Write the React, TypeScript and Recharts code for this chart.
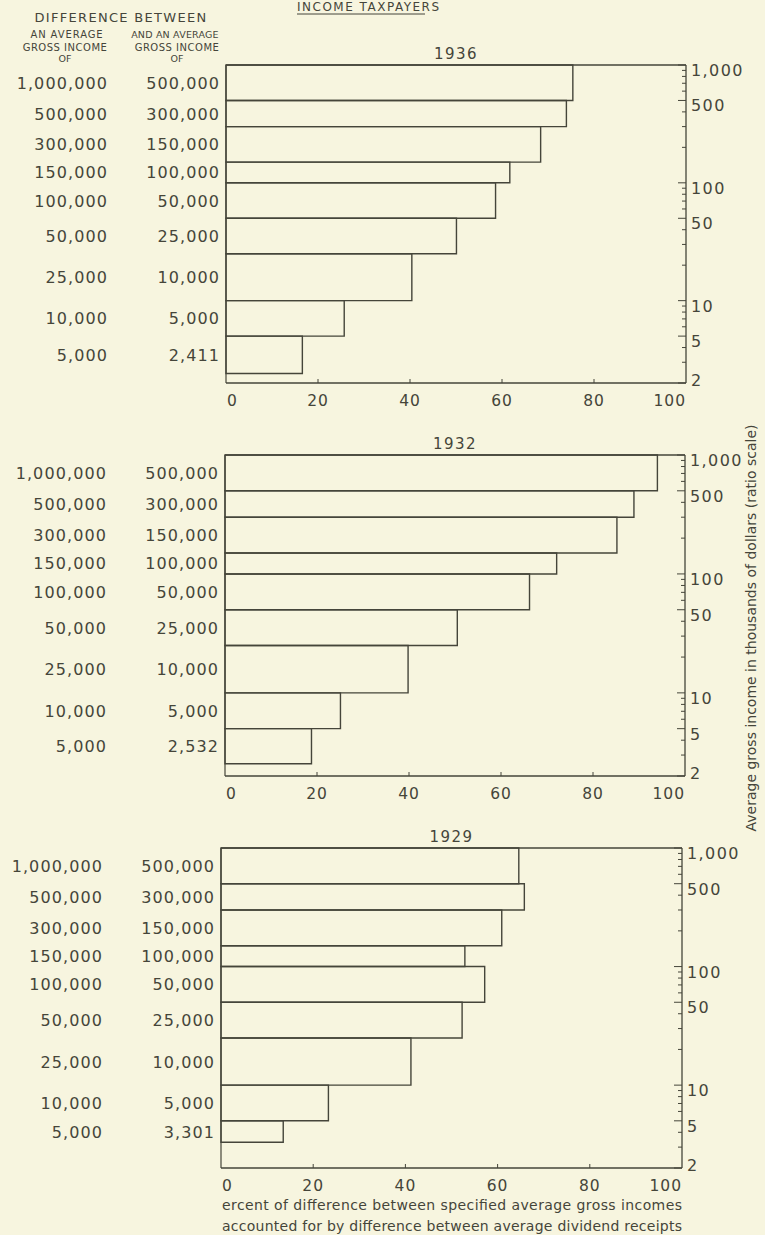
import React from 'react';
import { ComposedChart, XAxis, YAxis, ReferenceArea, ReferenceLine, Scatter } from 'recharts';

const INK = '#45453a';
const PAPER = '#f7f5df';
const FONT = "'DejaVu Sans', sans-serif";

// income brackets, thousands of dollars (upper / lower gross income)
const upperBounds = [1000, 500, 300, 150, 100, 50, 25, 10, 5];
const lowerBounds1936 = [500, 300, 150, 100, 50, 25, 10, 5, 2.411];
const lowerBounds1932 = [500, 300, 150, 100, 50, 25, 10, 5, 2.532];
const lowerBounds1929 = [500, 300, 150, 100, 50, 25, 10, 5, 3.301];

const upperLabels = ['1,000,000', '500,000', '300,000', '150,000', '100,000', '50,000', '25,000', '10,000', '5,000'];
const lowerLabels1936 = ['500,000', '300,000', '150,000', '100,000', '50,000', '25,000', '10,000', '5,000', '2,411'];
const lowerLabels1932 = ['500,000', '300,000', '150,000', '100,000', '50,000', '25,000', '10,000', '5,000', '2,532'];
const lowerLabels1929 = ['500,000', '300,000', '150,000', '100,000', '50,000', '25,000', '10,000', '5,000', '3,301'];

// percent of income difference accounted for by dividend difference
const pct1936 = [75.4, 74.0, 68.4, 61.7, 58.6, 50.1, 40.4, 25.7, 16.6];
const pct1932 = [94.0, 88.9, 85.2, 72.1, 66.2, 50.5, 39.8, 25.1, 18.8];
const pct1929 = [64.6, 65.8, 60.9, 52.9, 57.2, 52.3, 41.2, 23.3, 13.5];

const ratioTicks = [2, 3, 4, 5, 6, 7, 8, 9, 10, 20, 30, 40, 50, 60, 70, 80, 90, 100, 200, 300, 400, 500, 600, 700, 800, 900, 1000];
const ratioLabels = [2, 5, 10, 50, 100, 500, 1000];
const pctTicks = [0, 20, 40, 60, 80, 100];

const W = 765;

const RightTick = (props: any) => {
  const { x, y, payload } = props;
  const v = payload.value;
  const major = ratioLabels.includes(v);
  return (
    <g>
      <line x1={x - (major ? 8 : 4)} x2={x} y1={y} y2={y} stroke={INK} strokeWidth={1} />
      {major && (
        <text x={x + 5} y={v === 2 ? y + 3 : y + 11} fill={INK} fontSize={16} fontFamily={FONT} letterSpacing={1.4}>
          {v.toLocaleString('en-US')}
        </text>
      )}
    </g>
  );
};

const BottomTick = (props: any) => {
  const { x, y, payload } = props;
  const v = payload.value;
  const anchor = v === 0 ? 'start' : v === 100 ? 'end' : 'middle';
  return (
    <g>
      {v !== 0 && v !== 100 && <line x1={x} x2={x} y1={y - 4} y2={y} stroke={INK} strokeWidth={1} />}
      <text x={v === 0 ? x + 1 : x} y={y + 23} textAnchor={anchor} fill={INK} fontSize={15.5} fontFamily={FONT} letterSpacing={1}>
        {v}
      </text>
    </g>
  );
};

interface PanelProps {
  top: number;
  height: number;
  left: number;
  right: number;
  pct: number[];
  lower: number[];
  lowerLabels: string[];
}

function Panel({ top, height, left, right, pct, lower, lowerLabels }: PanelProps) {
  const rows = pct.map((p, i) => ({
    pct: p,
    hi: upperBounds[i],
    lo: lower[i],
    mid: Math.sqrt(upperBounds[i] * lower[i]),
  }));
  const mids = rows.map((r) => r.mid);

  const LeftTick = (props: any) => {
    const { x, y, payload } = props;
    const i = mids.findIndex((m) => Math.abs(m - payload.value) < 1e-6);
    if (i < 0) return <g />;
    const common = { fill: INK, fontSize: 16, fontFamily: FONT, letterSpacing: 1.1, textAnchor: 'end' as const };
    return (
      <g>
        <text x={x - 118} y={y + 6} {...common}>{upperLabels[i]}</text>
        <text x={x - 6} y={y + 6} {...common}>{lowerLabels[i]}</text>
      </g>
    );
  };

  return (
    <div style={{ position: 'absolute', left: 0, top: top - 10 }}>
      <ComposedChart width={W} height={10 + height + 40} data={rows} margin={{ top: 10, right: 0, bottom: 0, left: 0 }}>
        <XAxis
          type="number"
          dataKey="pct"
          domain={[0, 100]}
          ticks={pctTicks}
          interval={0}
          height={40}
          tickSize={0}
          tickMargin={0}
          tickLine={false}
          tick={BottomTick}
          axisLine={{ stroke: INK, strokeWidth: 1.3 }}
        />
        <YAxis
          yAxisId="l"
          orientation="left"
          type="number"
          scale="log"
          dataKey="mid"
          domain={[2, 1000]}
          allowDataOverflow
          ticks={mids}
          interval={0}
          width={left}
          tickSize={0}
          tickMargin={0}
          tickLine={false}
          tick={LeftTick}
          axisLine={{ stroke: INK, strokeWidth: 1.2 }}
        />
        <YAxis
          yAxisId="r"
          orientation="right"
          type="number"
          scale="log"
          dataKey="mid"
          domain={[2, 1000]}
          allowDataOverflow
          ticks={ratioTicks}
          interval={0}
          width={W - right}
          tickSize={0}
          tickMargin={0}
          tickLine={false}
          tick={RightTick}
          axisLine={{ stroke: INK, strokeWidth: 1.3 }}
        />
        <ReferenceLine yAxisId="r" y={1000} stroke={INK} strokeWidth={1.3} />
        {rows.map((r, i) => (
          <ReferenceArea
            key={i}
            yAxisId="r"
            x1={0}
            x2={r.pct}
            y1={r.lo}
            y2={r.hi}
            fill="none"
            fillOpacity={0}
            stroke={INK}
            strokeWidth={1.4}
            ifOverflow="visible"
          />
        ))}
        <Scatter yAxisId="r" dataKey="mid" shape={() => <g />} isAnimationActive={false} />
        <Scatter yAxisId="l" dataKey="mid" shape={() => <g />} isAnimationActive={false} />
      </ComposedChart>
    </div>
  );
}

const panels = [
  { year: '1936', top: 65, height: 318, left: 226, right: 686, pct: pct1936, lower: lowerBounds1936, lowerLabels: lowerLabels1936 },
  { year: '1932', top: 455, height: 321, left: 225, right: 685, pct: pct1932, lower: lowerBounds1932, lowerLabels: lowerLabels1932 },
  { year: '1929', top: 848, height: 320, left: 221, right: 682, pct: pct1929, lower: lowerBounds1929, lowerLabels: lowerLabels1929 },
];

export default function App() {
  const t = { fill: INK, fontFamily: FONT };
  return (
    <div style={{ position: 'absolute', left: 0, top: 0, width: W, height: 1235, background: PAPER, overflow: 'hidden' }}>
      {panels.map((p) => (
        <Panel key={p.year} {...p} />
      ))}
      <svg width={W} height={1235} style={{ position: 'absolute', left: 0, top: 0, pointerEvents: 'none' }}>
        <text x={297} y={11} {...t} fontSize={12} letterSpacing={1.5}>INCOME  TAXPAYERS</text>
        <line x1={297} x2={425} y1={14} y2={14} stroke={INK} strokeWidth={1} />

        <text x={121} y={22} {...t} fontSize={13} letterSpacing={1.3} textAnchor="middle">DIFFERENCE BETWEEN</text>
        <text x={67} y={38} {...t} fontSize={10} letterSpacing={0.9} textAnchor="middle">AN AVERAGE</text>
        <text x={65} y={51} {...t} fontSize={10} letterSpacing={0.5} textAnchor="middle">GROSS INCOME</text>
        <text x={65} y={62} {...t} fontSize={9.5} textAnchor="middle">OF</text>
        <text x={175} y={38} {...t} fontSize={9.5} letterSpacing={0.2} textAnchor="middle">AND AN AVERAGE</text>
        <text x={177} y={51} {...t} fontSize={10} letterSpacing={0.5} textAnchor="middle">GROSS INCOME</text>
        <text x={177} y={62} {...t} fontSize={9.5} textAnchor="middle">OF</text>

        {panels.map((p) => (
          <text key={p.year} x={(p.left + p.right) / 2} y={p.top - 6} {...t} fontSize={15} letterSpacing={1.5} textAnchor="middle">
            {p.year}
          </text>
        ))}

        <text x={752} y={628} {...t} fontSize={14} textAnchor="middle" dominantBaseline="middle" transform="rotate(-90 752 628)">
          Average gross income in thousands of dollars (ratio scale)
        </text>

        <text x={222} y={1210} {...t} fontSize={14} textLength={460} lengthAdjust="spacing">
          ercent of difference between specified average gross incomes
        </text>
        <text x={222} y={1231} {...t} fontSize={14} textLength={460} lengthAdjust="spacing">
          accounted for by difference between average dividend receipts
        </text>
      </svg>
    </div>
  );
}
